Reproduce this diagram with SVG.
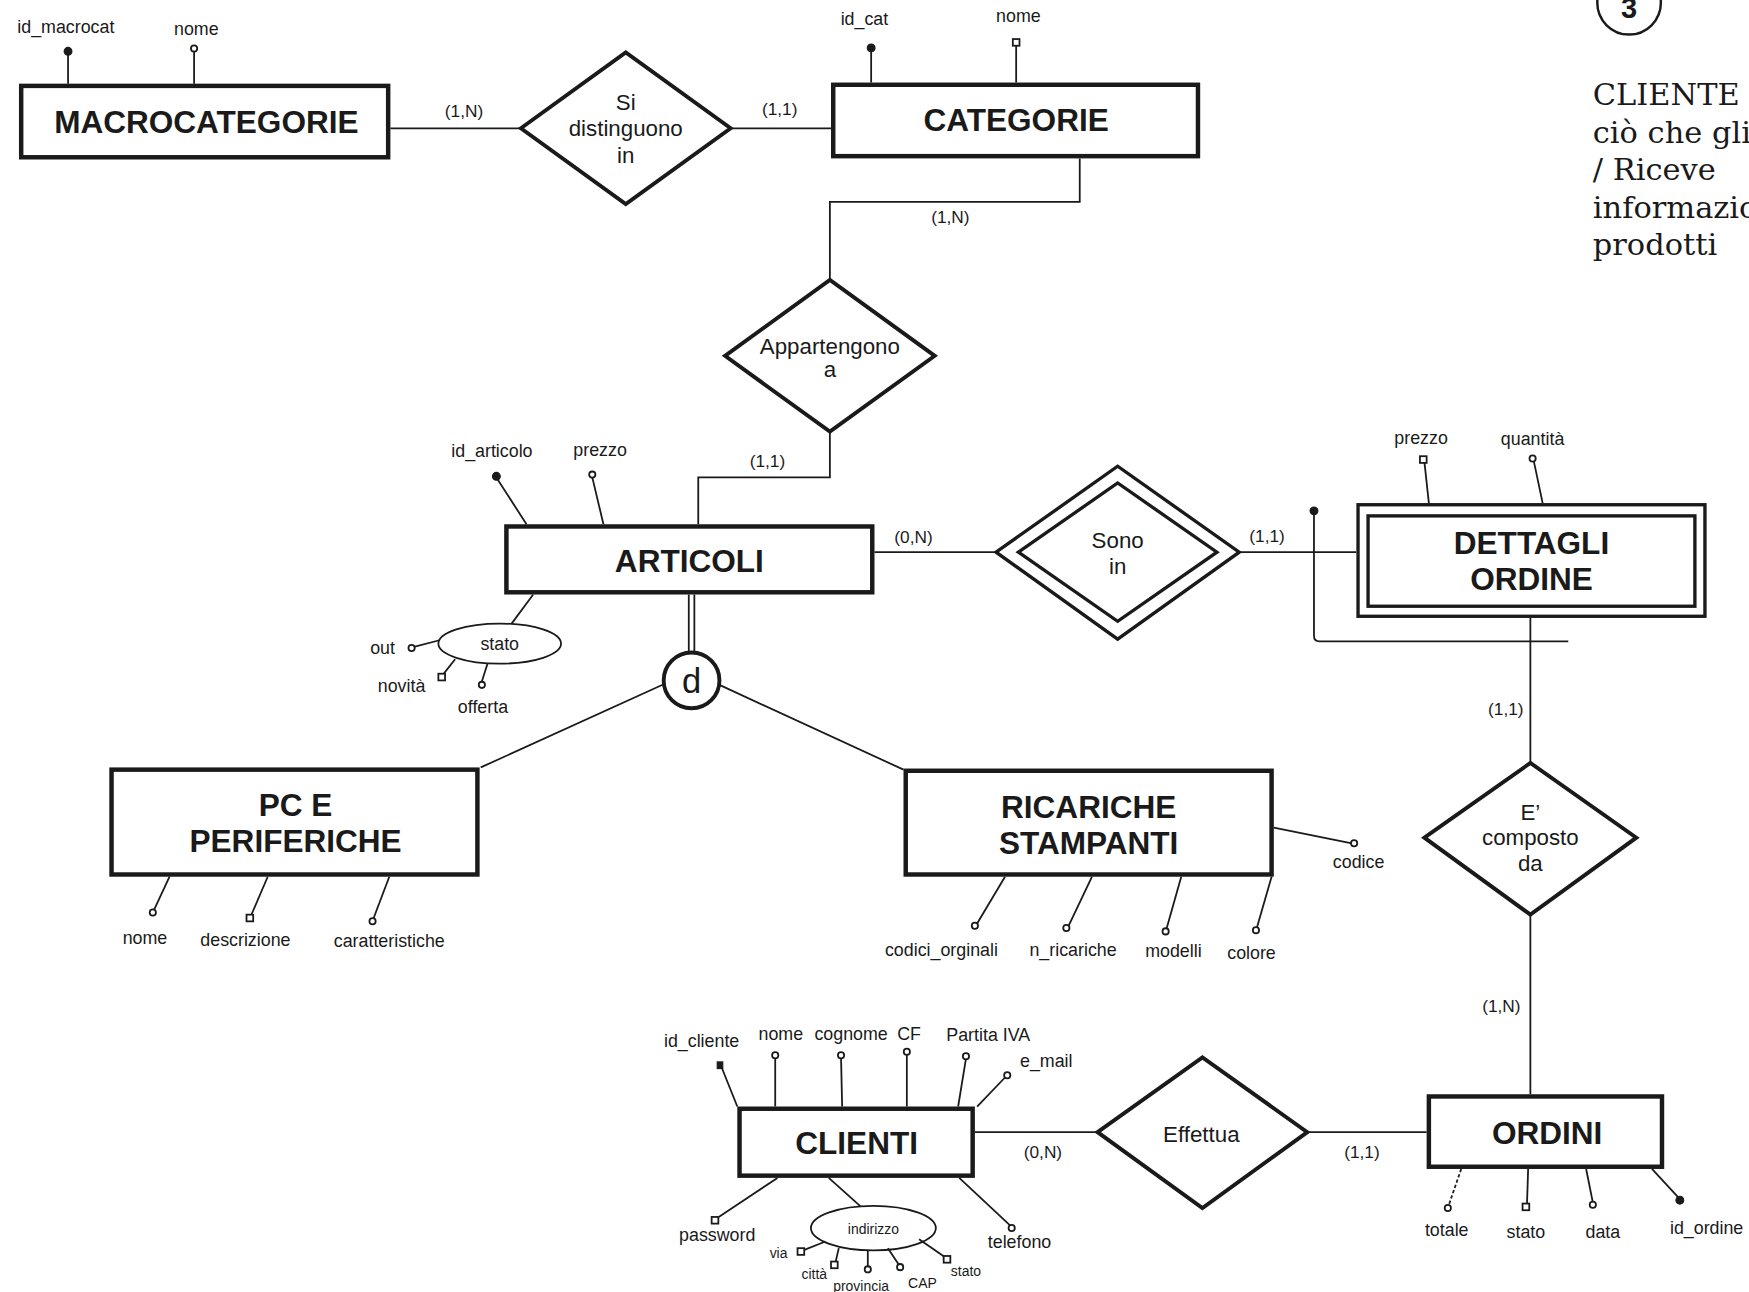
<svg xmlns="http://www.w3.org/2000/svg" width="1749" height="1292" viewBox="0 0 1749 1292">
<style>
.ent{fill:#fff;stroke:#1a1a1a;stroke-width:4}
.dbl{fill:#fff;stroke:#1a1a1a;stroke-width:3}
.rel{fill:#fff;stroke:#1a1a1a;stroke-width:3.5}
.ln{fill:none;stroke:#1a1a1a;stroke-width:1.6}
.dash{fill:none;stroke:#1a1a1a;stroke-width:1.6;stroke-dasharray:3 2}
.key{fill:#1a1a1a;stroke:#1a1a1a;stroke-width:1}
.opt{fill:#fff;stroke:#1a1a1a;stroke-width:1.6}
.cmp{fill:#fff;stroke:#1a1a1a;stroke-width:1.6}
text{font-family:"Liberation Sans",Arial,sans-serif;fill:#1a1a1a}
.en{font-size:28.3px;font-weight:bold;text-anchor:middle}
.rt{font-size:20px;text-anchor:middle}
.at{font-size:16px;text-anchor:middle}
.card{font-size:15.5px;text-anchor:middle}
.sm{font-size:12.5px;text-anchor:middle}
.note{font-family:"DejaVu Serif","Liberation Serif",serif;font-size:27.3px}
</style>
<rect width="1749" height="1292" fill="#fff"/>
<g transform="scale(1.11543)">

<!-- connectors between entities and relationships -->
<g id="connectors">
  <line class="ln" x1="350" y1="115" x2="467" y2="115"/>
  <text class="card" x="416" y="105">(1,N)</text>
  <line class="ln" x1="655" y1="115" x2="745" y2="115"/>
  <text class="card" x="699" y="103">(1,1)</text>
  <path class="ln" d="M968,142 V181 H744 V251"/>
  <text class="card" x="852" y="200">(1,N)</text>
  <path class="ln" d="M744,387 V428 H626 V470"/>
  <text class="card" x="688" y="419">(1,1)</text>
  <line class="ln" x1="784" y1="495" x2="893" y2="495"/>
  <text class="card" x="819" y="487">(0,N)</text>
  <line class="ln" x1="1111" y1="495" x2="1216" y2="495"/>
  <text class="card" x="1136" y="486">(1,1)</text>
  <line class="ln" x1="1372" y1="554" x2="1372" y2="684"/>
  <text class="card" x="1350" y="641">(1,1)</text>
  <line class="ln" x1="1372" y1="820" x2="1372" y2="981"/>
  <text class="card" x="1346" y="907">(1,N)</text>
  <line class="ln" x1="874" y1="1015" x2="984" y2="1015"/>
  <text class="card" x="935" y="1038">(0,N)</text>
  <line class="ln" x1="1172" y1="1015" x2="1279" y2="1015"/>
  <text class="card" x="1221" y="1038">(1,1)</text>
  <!-- generalization ARTICOLI -> subtypes -->
  <line class="ln" x1="617.5" y1="533" x2="617.5" y2="586"/>
  <line class="ln" x1="622.5" y1="533" x2="622.5" y2="586"/>
  <line class="ln" x1="596" y1="613" x2="431" y2="688"/>
  <line class="ln" x1="645" y1="614" x2="810" y2="690"/>
</g>

<g id="macrocategorie">
  <line class="ln" x1="61" y1="75" x2="61" y2="46"/>
  <circle class="key" cx="61" cy="46" r="3.5"/>
  <text class="at" x="59" y="29.5">id_macrocat</text>
  <line class="ln" x1="174" y1="75" x2="174" y2="45"/>
  <circle class="opt" cx="174" cy="43.5" r="2.8"/>
  <text class="at" x="176" y="31">nome</text>
  <rect class="ent" x="19" y="77" width="329" height="64"/>
  <text class="en" x="185" y="119">MACROCATEGORIE</text>
</g>

<g id="si-distinguono-in">
  <polygon class="rel" points="467,115 561,47 655,115 561,183"/>
  <text class="rt" x="561" y="99">Si</text>
  <text class="rt" x="561" y="122">distinguono</text>
  <text class="rt" x="561" y="146">in</text>
</g>

<g id="categorie">
  <line class="ln" x1="781" y1="74" x2="781" y2="44"/>
  <circle class="key" cx="781" cy="43" r="3.5"/>
  <text class="at" x="775" y="22">id_cat</text>
  <line class="ln" x1="911" y1="74" x2="911" y2="41"/>
  <rect class="opt" x="908" y="35" width="6" height="6"/>
  <text class="at" x="913" y="20">nome</text>
  <rect class="ent" x="747" y="76" width="327" height="64"/>
  <text class="en" x="911" y="117">CATEGORIE</text>
</g>

<g id="appartengono-a">
  <polygon class="rel" points="650,319 744,251 838,319 744,387"/>
  <text class="rt" x="744" y="317">Appartengono</text>
  <text class="rt" x="744" y="338">a</text>
</g>

<g id="articoli">
  <line class="ln" x1="472" y1="470" x2="445" y2="428"/>
  <circle class="key" cx="445" cy="427" r="3.5"/>
  <text class="at" x="441" y="410">id_articolo</text>
  <line class="ln" x1="541" y1="470" x2="531" y2="428"/>
  <circle class="opt" cx="531" cy="425.5" r="2.8"/>
  <text class="at" x="538" y="409">prezzo</text>
  <line class="ln" x1="478" y1="533" x2="458" y2="560"/>
  <ellipse class="cmp" cx="448" cy="577" rx="55" ry="18"/>
  <text class="at" x="448" y="583">stato</text>
  <line class="ln" x1="394" y1="574" x2="371" y2="580"/>
  <circle class="opt" cx="369" cy="581" r="2.8"/>
  <text class="at" x="343" y="586">out</text>
  <line class="ln" x1="408" y1="591" x2="397" y2="605"/>
  <rect class="opt" x="393" y="604" width="6" height="6"/>
  <text class="at" x="360" y="620">novità</text>
  <line class="ln" x1="437" y1="595" x2="432" y2="611"/>
  <circle class="opt" cx="432" cy="614" r="2.8"/>
  <text class="at" x="433" y="639">offerta</text>
  <rect class="ent" x="454" y="472" width="328" height="59"/>
  <text class="en" x="618" y="513">ARTICOLI</text>
</g>

<g id="gerarchia-d">
  <circle cx="620" cy="610" r="25" fill="#fff" stroke="#1a1a1a" stroke-width="3.5"/>
  <text x="620" y="621" font-size="31" text-anchor="middle">d</text>
</g>

<g id="pc-e-periferiche">
  <line class="ln" x1="152" y1="786" x2="138" y2="816"/>
  <circle class="opt" cx="137" cy="818" r="2.8"/>
  <text class="at" x="130" y="846">nome</text>
  <line class="ln" x1="240" y1="786" x2="225" y2="821"/>
  <rect class="opt" x="221" y="820" width="6" height="6"/>
  <text class="at" x="220" y="848">descrizione</text>
  <line class="ln" x1="349" y1="786" x2="335" y2="823"/>
  <circle class="opt" cx="334" cy="826" r="2.8"/>
  <text class="at" x="349" y="849">caratteristiche</text>
  <rect class="ent" x="100" y="690" width="328" height="94"/>
  <text class="en" x="265" y="732">PC E</text>
  <text class="en" x="265" y="764">PERIFERICHE</text>
</g>

<g id="ricariche-stampanti">
  <line class="ln" x1="1142" y1="742" x2="1212" y2="756"/>
  <circle class="opt" cx="1214" cy="756" r="2.8"/>
  <text class="at" x="1218" y="778">codice</text>
  <line class="ln" x1="901" y1="786" x2="876" y2="828"/>
  <circle class="opt" cx="874" cy="830" r="2.8"/>
  <text class="at" x="844" y="857">codici_orginali</text>
  <line class="ln" x1="979" y1="786" x2="958" y2="830"/>
  <circle class="opt" cx="956" cy="832" r="2.8"/>
  <text class="at" x="962" y="857">n_ricariche</text>
  <line class="ln" x1="1059" y1="786" x2="1046" y2="832"/>
  <circle class="opt" cx="1045" cy="835" r="2.8"/>
  <text class="at" x="1052" y="858">modelli</text>
  <line class="ln" x1="1140" y1="786" x2="1127" y2="831"/>
  <circle class="opt" cx="1126" cy="834" r="2.8"/>
  <text class="at" x="1122" y="860">colore</text>
  <rect class="ent" x="812" y="691" width="328" height="93"/>
  <text class="en" x="976" y="733">RICARICHE</text>
  <text class="en" x="976" y="766">STAMPANTI</text>
</g>

<g id="sono-in">
  <polygon class="dbl" points="893,495 1002,418 1111,495 1002,573"/>
  <polygon class="dbl" points="913,495 1002,433 1091,495 1002,557"/>
  <text class="rt" x="1002" y="491">Sono</text>
  <text class="rt" x="1002" y="515">in</text>
</g>

<g id="dettagli-ordine">
  <line class="ln" x1="1281" y1="451" x2="1277" y2="414"/>
  <rect class="opt" x="1273" y="409" width="6" height="6"/>
  <text class="at" x="1274" y="398">prezzo</text>
  <line class="ln" x1="1383" y1="451" x2="1375" y2="413"/>
  <circle class="opt" cx="1374" cy="411" r="2.8"/>
  <text class="at" x="1374" y="399">quantità</text>
  <!-- external identifier -->
  <circle class="key" cx="1178" cy="458" r="3.5"/>
  <path class="ln" d="M1178,458 V570 Q1178,575 1183,575 H1406"/>
  <rect class="dbl" x="1217.5" y="452.5" width="311" height="100"/>
  <rect class="dbl" x="1226.5" y="462.5" width="293" height="81"/>
  <text class="en" x="1373" y="497">DETTAGLI</text>
  <text class="en" x="1373" y="529">ORDINE</text>
</g>

<g id="e-composto-da">
  <polygon class="rel" points="1277,751 1372,684 1467,751 1372,820"/>
  <text class="rt" x="1372" y="735">E’</text>
  <text class="rt" x="1372" y="758">composto</text>
  <text class="rt" x="1372" y="781">da</text>
</g>

<g id="ordini">
  <line class="dash" x1="1310" y1="1048" x2="1299" y2="1080"/>
  <circle class="opt" cx="1298" cy="1083" r="2.8"/>
  <text class="at" x="1297" y="1108">totale</text>
  <line class="ln" x1="1370" y1="1048" x2="1369" y2="1079"/>
  <rect class="opt" x="1365" y="1079" width="6" height="6"/>
  <text class="at" x="1368" y="1110">stato</text>
  <line class="ln" x1="1422" y1="1048" x2="1428" y2="1078"/>
  <circle class="opt" cx="1428" cy="1080" r="2.8"/>
  <text class="at" x="1437" y="1110">data</text>
  <line class="ln" x1="1481" y1="1048" x2="1505" y2="1074"/>
  <circle class="key" cx="1506" cy="1076" r="3.5"/>
  <text class="at" x="1530" y="1106">id_ordine</text>
  <rect class="ent" x="1281" y="983" width="209" height="63"/>
  <text class="en" x="1387" y="1026">ORDINI</text>
</g>

<g id="effettua">
  <polygon class="rel" points="984,1015 1078,948 1172,1015 1078,1083"/>
  <text class="rt" x="1077" y="1024">Effettua</text>
</g>

<g id="clienti">
  <line class="ln" x1="661" y1="992" x2="647" y2="957"/>
  <rect class="key" x="643" y="952" width="5" height="6"/>
  <text class="at" x="629" y="939">id_cliente</text>
  <line class="ln" x1="695" y1="992" x2="695" y2="948"/>
  <circle class="opt" cx="695" cy="946" r="2.8"/>
  <text class="at" x="700" y="932">nome</text>
  <line class="ln" x1="755" y1="992" x2="754" y2="948"/>
  <circle class="opt" cx="754" cy="946" r="2.8"/>
  <text class="at" x="763" y="932">cognome</text>
  <line class="ln" x1="813" y1="992" x2="813" y2="945"/>
  <circle class="opt" cx="813" cy="943" r="2.8"/>
  <text class="at" x="815" y="932">CF</text>
  <line class="ln" x1="859" y1="992" x2="866" y2="949"/>
  <circle class="opt" cx="866" cy="947" r="2.8"/>
  <text class="at" x="886" y="933">Partita IVA</text>
  <line class="ln" x1="876" y1="992" x2="901" y2="966"/>
  <circle class="opt" cx="903" cy="964" r="2.8"/>
  <text class="at" x="938" y="957">e_mail</text>
  <line class="ln" x1="697" y1="1056" x2="643" y2="1092"/>
  <rect class="opt" x="638" y="1091" width="6" height="6"/>
  <text class="at" x="643" y="1113">password</text>
  <line class="ln" x1="743" y1="1056" x2="772" y2="1082"/>
  <ellipse class="cmp" cx="783" cy="1101" rx="56" ry="20"/>
  <text class="sm" x="783" y="1106">indirizzo</text>
  <line class="ln" x1="740" y1="1113" x2="720" y2="1121"/>
  <rect class="opt" x="715" y="1119" width="6" height="6"/>
  <text class="sm" x="698" y="1128">via</text>
  <line class="ln" x1="752" y1="1119" x2="749" y2="1132"/>
  <rect class="opt" x="745" y="1131" width="6" height="6"/>
  <text class="sm" x="730" y="1147">città</text>
  <line class="ln" x1="778" y1="1121" x2="778" y2="1136"/>
  <circle class="opt" cx="778" cy="1138" r="2.8"/>
  <text class="sm" x="772" y="1157">provincia</text>
  <line class="ln" x1="796" y1="1119" x2="806" y2="1134"/>
  <circle class="opt" cx="807" cy="1136" r="2.8"/>
  <text class="sm" x="827" y="1155">CAP</text>
  <line class="ln" x1="824" y1="1111" x2="847" y2="1127"/>
  <rect class="opt" x="846" y="1126" width="6" height="6"/>
  <text class="sm" x="866" y="1144">stato</text>
  <line class="ln" x1="860" y1="1056" x2="906" y2="1099"/>
  <circle class="opt" cx="907" cy="1101" r="2.8"/>
  <text class="at" x="914" y="1119">telefono</text>
  <rect class="ent" x="663" y="994" width="209" height="60"/>
  <text class="en" x="768" y="1035">CLIENTI</text>
</g>

<!-- side note, cut by the page edge -->
<g id="nota">
  <circle cx="1460.5" cy="2.5" r="28.5" fill="#fff" stroke="#1a1a1a" stroke-width="2.2"/>
  <text x="1460.5" y="16.5" font-family="'DejaVu Serif','Liberation Serif',serif" font-size="26" font-weight="bold" text-anchor="middle">3</text>
  <text class="note" x="1428" y="94">CLIENTE</text>
  <text class="note" x="1428" y="128">ciò che gli</text>
  <text class="note" x="1428" y="161">/ Riceve</text>
  <text class="note" x="1428" y="195">informazio</text>
  <text class="note" x="1428" y="229">prodotti</text>
</g>

</g>
</svg>
